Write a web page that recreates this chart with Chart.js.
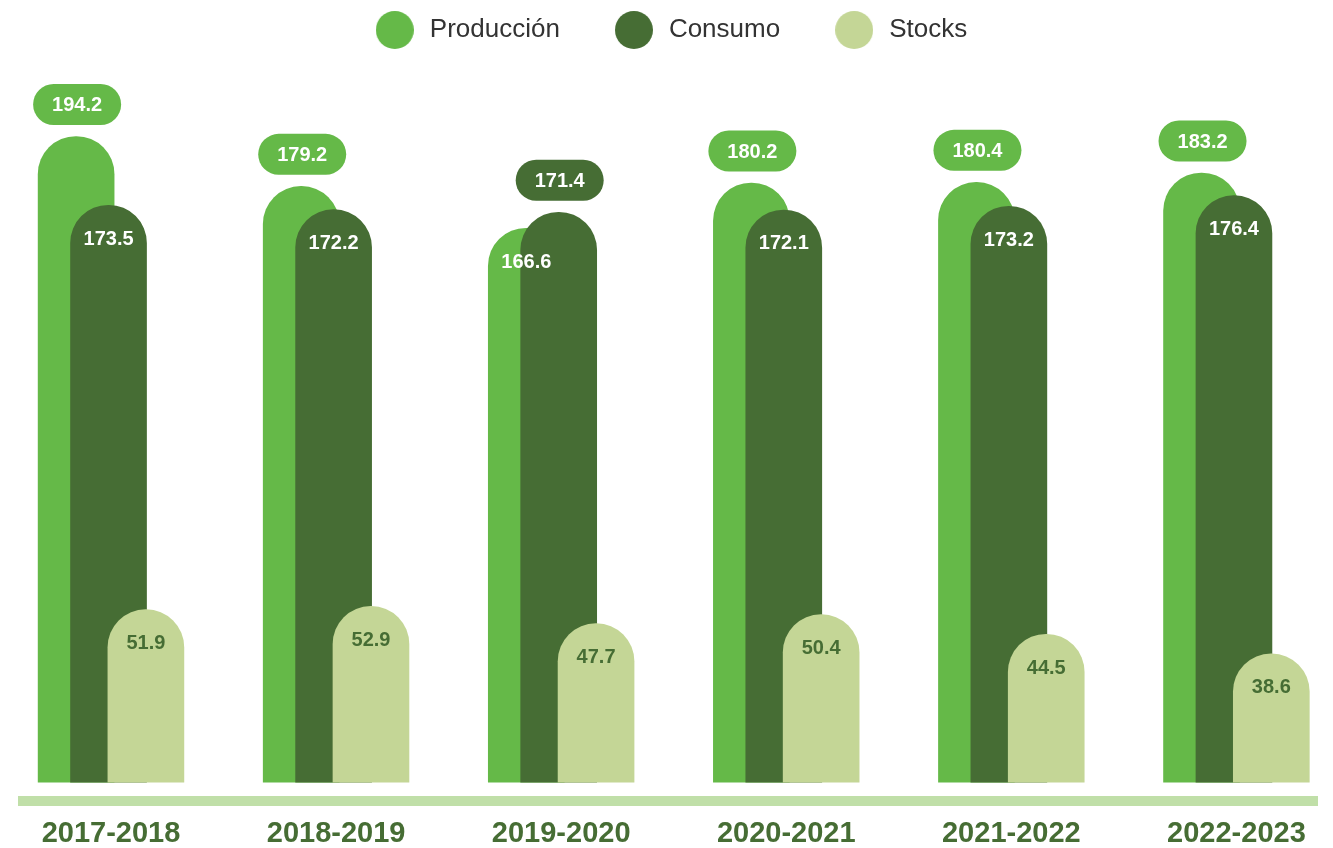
<!DOCTYPE html>
<html lang="es">
<head>
<meta charset="utf-8">
<title>Producción, Consumo y Stocks</title>
<script src="https://cdn.jsdelivr.net/npm/chart.js@4.4.1/dist/chart.umd.min.js"></script>
<style>
    html, body { margin: 0; padding: 0; background: #ffffff; }
    #wrap { width: 1333px; height: 848px; position: relative; }
</style>
</head>
<body>
<div id="wrap"><canvas id="mainChart"></canvas></div>
<script>
// datos
var campanas = ['2017-2018', '2018-2019', '2019-2020', '2020-2021', '2021-2022', '2022-2023'];
var produccion = [194.2, 179.2, 166.6, 180.2, 180.4, 183.2];
var consumo = [173.5, 172.2, 171.4, 172.1, 173.2, 176.4];
var stocks = [51.9, 52.9, 47.7, 50.4, 44.5, 38.6];

var VERDE = '#65B948';
var OSCURO = '#466D34';
var CLARO = '#C4D696';
var FONT = '"Liberation Sans", Arial, Helvetica, sans-serif';

// circulo para la leyenda
function circulo(color) {
    var c = document.createElement('canvas');
    c.width = 38; c.height = 38;
    var g = c.getContext('2d');
    g.fillStyle = color;
    g.beginPath();
    g.arc(19, 19, 19, 0, Math.PI * 2);
    g.fill();
    return c;
}

// desplazamiento de cada serie dentro del grupo (en unidades del eje x)
function puntos(valores, desplaz) {
    return valores.map(function(v, i) { return {x: i + desplaz, y: v}; });
}

function pildora(ctx, cx, cy, w, h) {
    var r = h / 2;
    ctx.beginPath();
    ctx.moveTo(cx - w / 2 + r, cy - r);
    ctx.lineTo(cx + w / 2 - r, cy - r);
    ctx.arc(cx + w / 2 - r, cy, r, -Math.PI / 2, Math.PI / 2);
    ctx.lineTo(cx - w / 2 + r, cy + r);
    ctx.arc(cx - w / 2 + r, cy, r, Math.PI / 2, Math.PI * 1.5);
    ctx.closePath();
    ctx.fill();
}

// etiquetas de valores
var etiquetas = {
    id: 'etiquetas',
    afterDatasetsDraw: function(chart) {
        var ctx = chart.ctx;
        var p = chart.getDatasetMeta(0).data;
        var c = chart.getDatasetMeta(1).data;
        var s = chart.getDatasetMeta(2).data;
        ctx.save();
        ctx.font = 'bold 20px ' + FONT;
        ctx.textAlign = 'center';
        ctx.textBaseline = 'middle';
        campanas.forEach(function(cat, i) {
            var alto, bajo, colorAlto, vAlto, vBajo;
            if (produccion[i] >= consumo[i]) {
                alto = p[i]; bajo = c[i]; colorAlto = VERDE; vAlto = produccion[i]; vBajo = consumo[i];
            } else {
                alto = c[i]; bajo = p[i]; colorAlto = OSCURO; vAlto = consumo[i]; vBajo = produccion[i];
            }
            ctx.fillStyle = colorAlto;
            pildora(ctx, alto.x + 1, alto.y - 32, 88, 41);
            ctx.fillStyle = '#FFFFFF';
            ctx.fillText(vAlto.toFixed(1), alto.x + 1, alto.y - 31);
            ctx.fillText(vBajo.toFixed(1), bajo.x, bajo.y + 34);
            ctx.fillStyle = OSCURO;
            ctx.fillText(stocks[i].toFixed(1), s[i].x, s[i].y + 34);
        });
        ctx.restore();
    }
};

var ctx = document.getElementById('mainChart').getContext('2d');
var grafico = new Chart(ctx, {
    type: 'bar',
    data: {
        datasets: [{
            label: 'Producción',
            data: puntos(produccion, -0.155),
            backgroundColor: VERDE,
            pointStyle: circulo(VERDE),
            order: 3
        }, {
            label: 'Consumo',
            data: puntos(consumo, -0.011),
            backgroundColor: OSCURO,
            pointStyle: circulo(OSCURO),
            order: 2
        }, {
            label: 'Stocks',
            data: puntos(stocks, 0.155),
            backgroundColor: CLARO,
            pointStyle: circulo(CLARO),
            order: 1
        }]
    },
    options: {
        responsive: true,
        maintainAspectRatio: false,
        animation: false,
        layout: {
            padding: { top: -35, left: 23, right: 16, bottom: -18 }
        },
        datasets: {
            bar: {
                grouped: false,
                barThickness: 76,
                borderRadius: { topLeft: 38, topRight: 38, bottomLeft: 0, bottomRight: 0 },
                borderSkipped: 'bottom'
            }
        },
        scales: {
            x: {
                type: 'linear',
                offset: false,
                min: -0.391,
                max: 5.358,
                afterBuildTicks: function(scale) {
                    scale.ticks = campanas.map(function(c, i) { return {value: i}; });
                },
                ticks: {
                    padding: 15,
                    autoSkip: false,
                    maxRotation: 0,
                    color: OSCURO,
                    font: { family: FONT, size: 29, weight: 'bold' },
                    callback: function(value) { return campanas[value]; }
                },
                grid: { display: false, drawTicks: false },
                border: { display: true, color: '#C0DFA8', width: 10 }
            },
            y: {
                display: false,
                min: -5.7,
                max: 219.3
            }
        },
        plugins: {
            legend: {
                position: 'top',
                labels: {
                    usePointStyle: true,
                    pointStyleWidth: 44,
                    padding: 52,
                    color: '#333333',
                    font: { family: FONT, size: 26 },
                    sort: function(a, b) { return a.datasetIndex - b.datasetIndex; }
                }
            },
            tooltip: { enabled: false }
        }
    },
    plugins: [etiquetas]
});
</script>
</body>
</html>
